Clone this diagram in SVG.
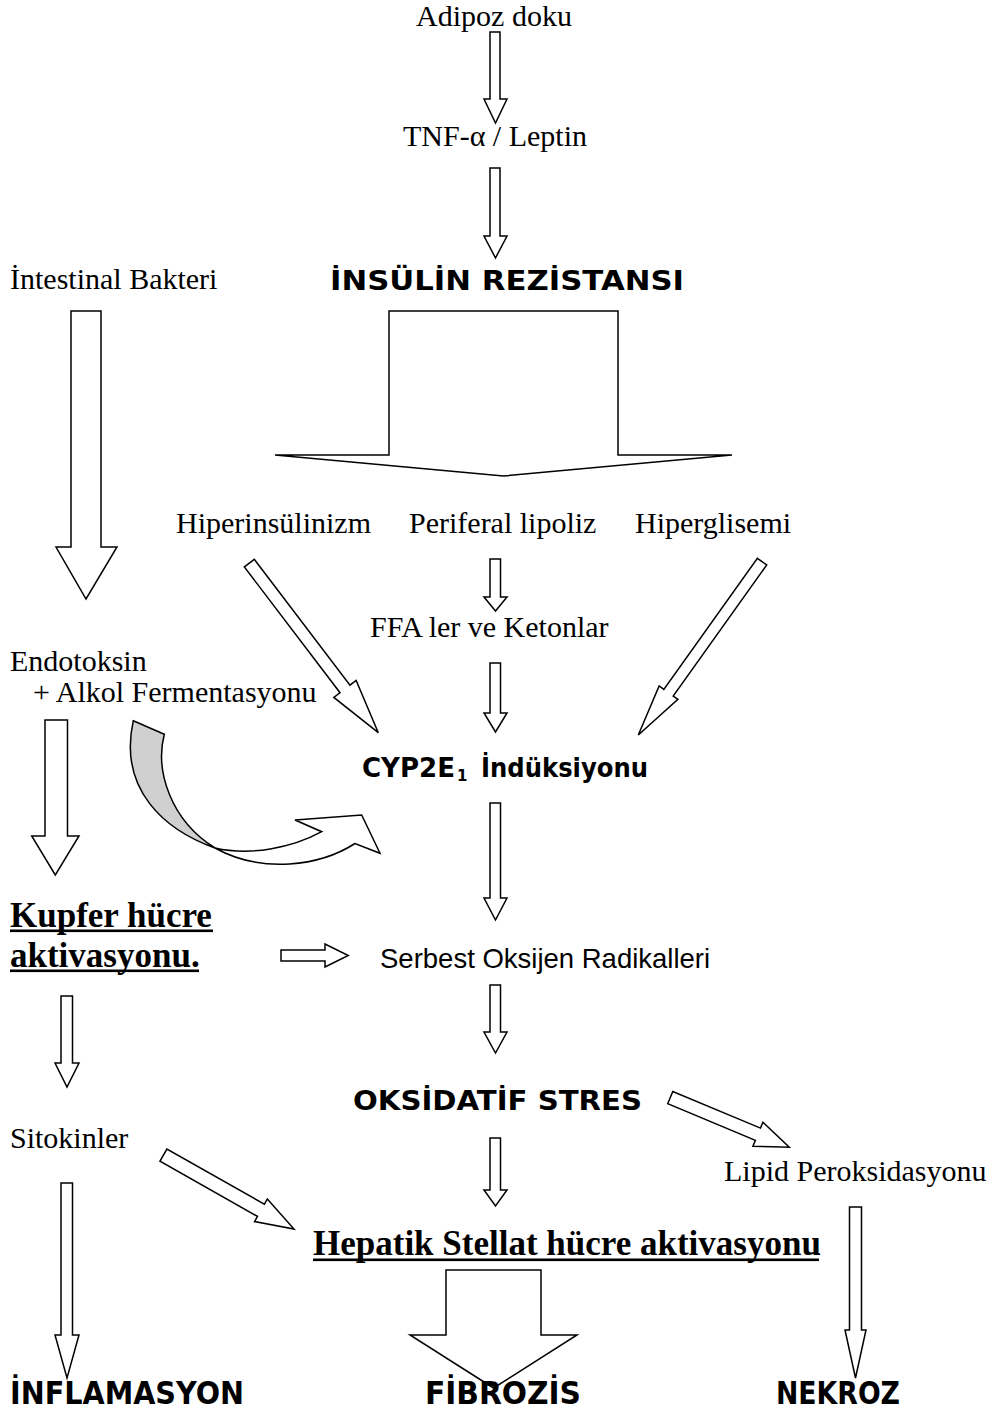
<svg xmlns="http://www.w3.org/2000/svg" width="1001" height="1410" viewBox="0 0 1001 1410">
<style>
.t{font-family:"Liberation Serif","Times New Roman",serif;font-size:30px;fill:#000}
.s{font-family:"Liberation Sans",Arial,sans-serif;font-size:27.5px;fill:#000}
.b{font-family:"Comic Sans MS","DejaVu Sans",sans-serif;font-weight:bold;font-size:27px;fill:#000}
.bb{font-family:"Comic Sans MS","DejaVu Sans",sans-serif;font-weight:bold;font-size:32px;fill:#000}
.u{font-family:"Liberation Serif","Times New Roman",serif;font-weight:bold;font-size:35px;fill:#000}
.a{fill:#fff;stroke:#000;stroke-width:1.5;stroke-linejoin:miter}
.g{fill:#d0d0d0;stroke:#000;stroke-width:1.5}
</style>
<rect width="1001" height="1410" fill="#fff"/>
<g id="connectors">
  <polygon class="a" points="490,32 500,32 500,99 507,99 495.5,123 484,99 490,99"/>
  <polygon class="a" points="490,168 500,168 500,236 507,236 495.5,258 484,236 490,236"/>
  <polygon class="a" points="71,311 101,311 101,547 117,547 86,599 56,547 71,547"/>
  <polygon class="a" points="389,311 618,311 618,455 732,455 503.5,476 275,455 389,455"/>
  <polygon class="a" points="490,559 500.5,559 500.5,597 507,597 495.5,611 484,597 490,597"/>
  <polygon class="a" points="490,663 500.5,663 500.5,713 507,713 495.5,732 484,713 490,713"/>
  <polygon class="a" points="490,803 500.5,803 500.5,898 507,898 495.5,920 484,898 490,898"/>
  <polygon class="a" points="490,985 500.5,985 500.5,1032 507,1032 495.5,1053 484,1032 490,1032"/>
  <polygon class="a" points="490,1138 500.5,1138 500.5,1190 507,1190 495.5,1206 484,1190 490,1190"/>
  <polygon class="a" points="45,720 67.5,720 67.5,836 79,836 55.3,875 31.7,836 45,836"/>
  <polygon class="a" points="61,996 72.5,996 72.5,1063 79,1063 67,1087 55,1063 61,1063"/>
  <polygon class="a" points="61,1183 72.5,1183 72.5,1335 79,1335 67,1378 55,1335 61,1335"/>
  <polygon class="a" points="281,950 325,950 325,944 348.3,955.5 325,967 325,961 281,961"/>
  <polygon class="a" points="446,1270 541,1270 541,1335 577,1335 493.5,1388 410,1335 446,1335"/>
  <polygon class="a" points="849.5,1207 861.5,1207 861.5,1330 866,1330 855.5,1378 845,1330 849.5,1330"/>
  <polygon class="a" transform="translate(378.3,732.7) rotate(-37.26)" points="-6.25,-213 6.25,-213 6.25,-55 14,-55 0,0 -14,-55 -6.25,-55"/>
  <polygon class="a" transform="translate(638.3,735) rotate(35.52)" points="-5.75,-213 5.75,-213 5.75,-52 11.5,-52 0,0 -11.5,-52 -5.75,-52"/>
  <polygon class="a" transform="translate(294,1229) rotate(-60.5)" points="-7,-150 7,-150 7,-38 13,-38 0,0 -13,-38 -7,-38"/>
  <polygon class="a" transform="translate(789.3,1147.3) rotate(-67.35)" points="-6.6,-129 6.6,-129 6.6,-34 13,-34 0,0 -13,-34 -6.6,-34"/>
  <path class="g" d="M133.3,720.7 L164.3,734.3 C155,770 170,820 215,848 C165,830 118,790 133.3,720.7 Z"/>
  <path class="a" d="M215,848 C250,856 292,848 321.7,831.7 L295,820 L361.7,815 L380,853.3 L355,843.5 C320,866 262,874 215,848 Z"/>
</g>
<g id="adipoz"><text class="t" x="494" y="26" text-anchor="middle">Adipoz doku</text></g>
<g id="tnf"><text class="t" x="495" y="146" text-anchor="middle">TNF-α / Leptin</text></g>
<g id="intestinal"><text class="t" x="10" y="289">İntestinal Bakteri</text></g>
<g id="insulin"><text class="b" x="330" y="290" textLength="354" lengthAdjust="spacingAndGlyphs">İNSÜLİN REZİSTANSI</text></g>
<g id="hiperinsulinizm"><text class="t" x="176" y="533">Hiperinsülinizm</text></g>
<g id="periferal"><text class="t" x="409" y="533">Periferal lipoliz</text></g>
<g id="hiperglisemi"><text class="t" x="635" y="533">Hiperglisemi</text></g>
<g id="ffa"><text class="t" x="370" y="637">FFA ler ve Ketonlar</text></g>
<g id="endotoksin"><text class="t" x="10" y="671">Endotoksin</text><text class="t" x="33" y="702">+ Alkol Fermentasyonu</text></g>
<g id="cyp"><text class="b" x="362" y="777" textLength="93" lengthAdjust="spacingAndGlyphs" style="font-size:26px">CYP2E</text><text class="b" x="457" y="781" style="font-size:15px">1</text><text class="b" x="481" y="777" textLength="167" lengthAdjust="spacingAndGlyphs" style="font-size:26px">İndüksiyonu</text></g>
<g id="kupfer"><text class="u" x="10" y="927">Kupfer hücre</text><rect x="10" y="929.5" width="203" height="2.6"/><text class="u" x="10" y="967">aktivasyonu.</text><rect x="10" y="969.5" width="189" height="2.6"/></g>
<g id="serbest"><text class="s" x="380" y="968">Serbest Oksijen Radikalleri</text></g>
<g id="oksidatif"><text class="b" x="353" y="1110" textLength="289" lengthAdjust="spacingAndGlyphs" style="font-size:26px">OKSİDATİF STRES</text></g>
<g id="sitokinler"><text class="t" x="10" y="1148">Sitokinler</text></g>
<g id="lipid"><text class="t" x="724" y="1181">Lipid Peroksidasyonu</text></g>
<g id="hepatik"><text class="u" x="313" y="1255">Hepatik Stellat hücre aktivasyonu</text><rect x="313" y="1258.5" width="506" height="2.6"/></g>
<g id="inflamasyon"><text class="bb" x="10" y="1404" textLength="234" lengthAdjust="spacingAndGlyphs">İNFLAMASYON</text></g>
<g id="fibrozis"><text class="bb" x="425" y="1404" textLength="156" lengthAdjust="spacingAndGlyphs">FİBROZİS</text></g>
<g id="nekroz"><text class="bb" x="776" y="1404" textLength="124" lengthAdjust="spacingAndGlyphs">NEKROZ</text></g>
</svg>
